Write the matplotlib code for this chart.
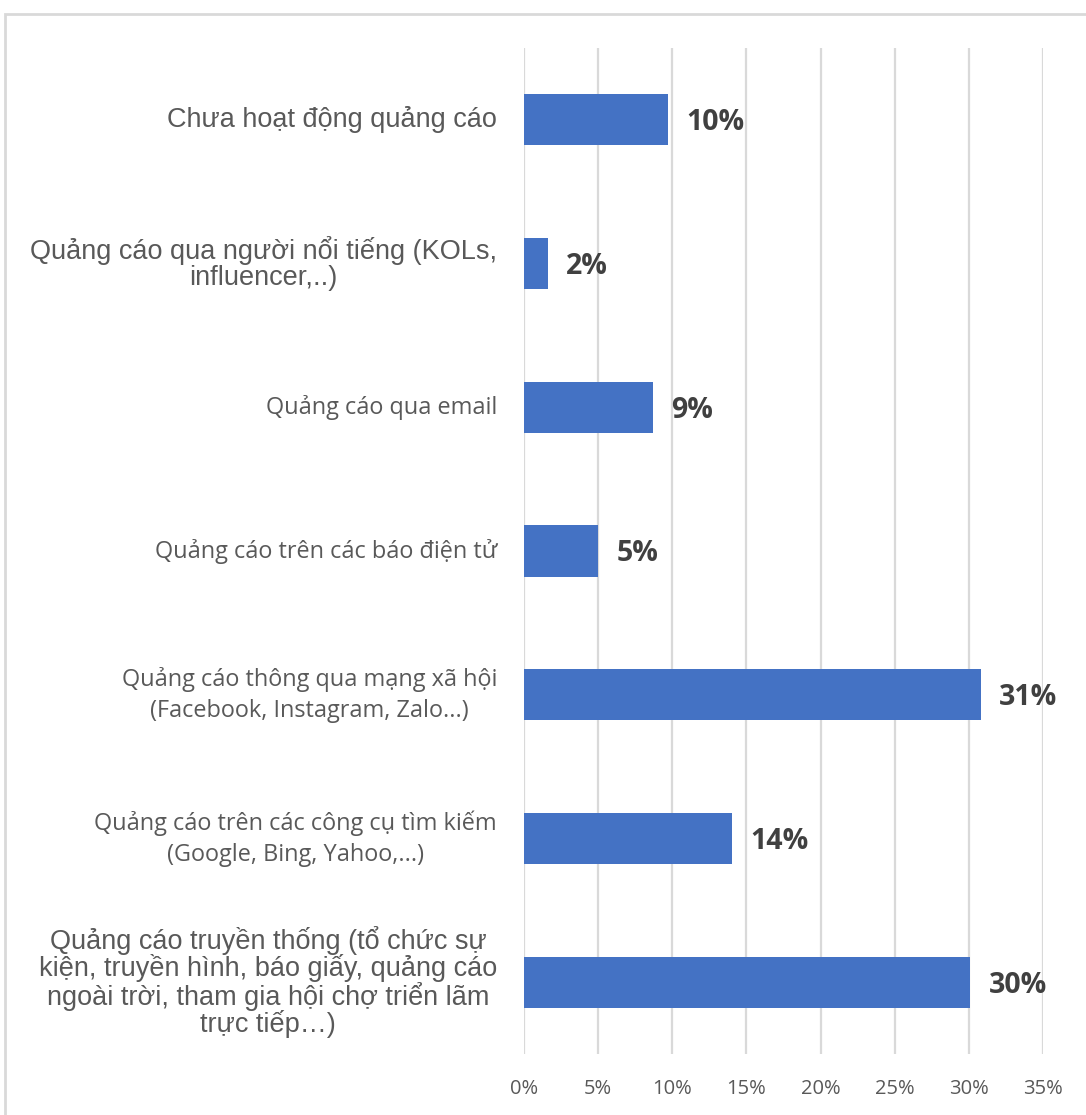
import matplotlib.pyplot as plt
from matplotlib.patches import Rectangle
from matplotlib.ticker import MultipleLocator, FuncFormatter

# Hình thức quảng cáo, từ trên xuống dưới
categories = [
    "Chưa hoạt động quảng cáo",
    "Quảng cáo qua người nổi tiếng (KOLs,\ninfluencer,..)",
    "Quảng cáo qua email",
    "Quảng cáo trên các báo điện tử",
    "Quảng cáo thông qua mạng xã hội\n(Facebook, Instagram, Zalo...)",
    "Quảng cáo trên các công cụ tìm kiếm\n(Google, Bing, Yahoo,...)",
    "Quảng cáo truyền thống (tổ chức sự\nkiện, truyền hình, báo giấy, quảng cáo\nngoài trời, tham gia hội chợ triển lãm\ntrực tiếp…)",
]
shares = [9.7, 1.6, 8.7, 5.0, 30.8, 14.0, 30.1]
# nhãn nào dùng font kiểu Arial (còn lại kiểu Calibri)
arial_labels = [True, True, False, False, False, False, True]

bar_color = "#4472C4"
grid_color = "#D9D9D9"
label_color = "#595959"
value_color = "#404040"
body_font = "Open Sans"

W, H = 1086, 1115
fig = plt.figure(figsize=(W / 100, H / 100), dpi=100)
fig.patch.set_facecolor("white")

# khung viền ngoài của biểu đồ
fig.patches.append(Rectangle((5 / W, -0.1), 1.2, 0.1 + (H - 14) / H,
                             transform=fig.transFigure, fill=False,
                             edgecolor=grid_color, lw=2))

ax = fig.add_axes([524 / W, 1 - 1054 / H, (1043 - 524) / W, (1054 - 48) / H])

y = list(range(len(categories)))
ax.barh(y, shares, height=0.355, color=bar_color, zorder=3)

ax.set_xlim(0, 35)
ax.set_ylim(len(categories) - 0.5, -0.5)
ax.xaxis.set_major_locator(MultipleLocator(5))
ax.xaxis.set_major_formatter(FuncFormatter(lambda v, _: f"{v:.0f}%"))
ax.grid(axis="x", color=grid_color, lw=1.6, zorder=0)
for s in ax.spines.values():
    s.set_visible(False)
ax.tick_params(axis="x", length=0, pad=18, labelsize=14.5, labelcolor=label_color)
for t in ax.get_xticklabels():
    t.set_fontfamily(body_font)

ax.set_yticks(y)
ax.set_yticklabels([])
ax.tick_params(axis="y", length=0)
for i, (cat, is_arial) in enumerate(zip(categories, arial_labels)):
    if is_arial:
        ax.text(-1.82, i, cat, ha="right", va="center", multialignment="center",
                fontsize=19.5, family="Liberation Sans", color=label_color,
                linespacing=0.98)
    else:
        ax.text(-1.82, i, cat, ha="right", va="center", multialignment="center",
                fontsize=16.9, family=body_font, color=label_color,
                linespacing=1.4)

for i, v in enumerate(shares):
    ax.text(v + 1.25, i + 0.02, f"{v:.0f}%", ha="left", va="center",
            fontsize=20.5, fontweight="bold", family=body_font, color=value_color)

fig.savefig("out.png", dpi=100)
